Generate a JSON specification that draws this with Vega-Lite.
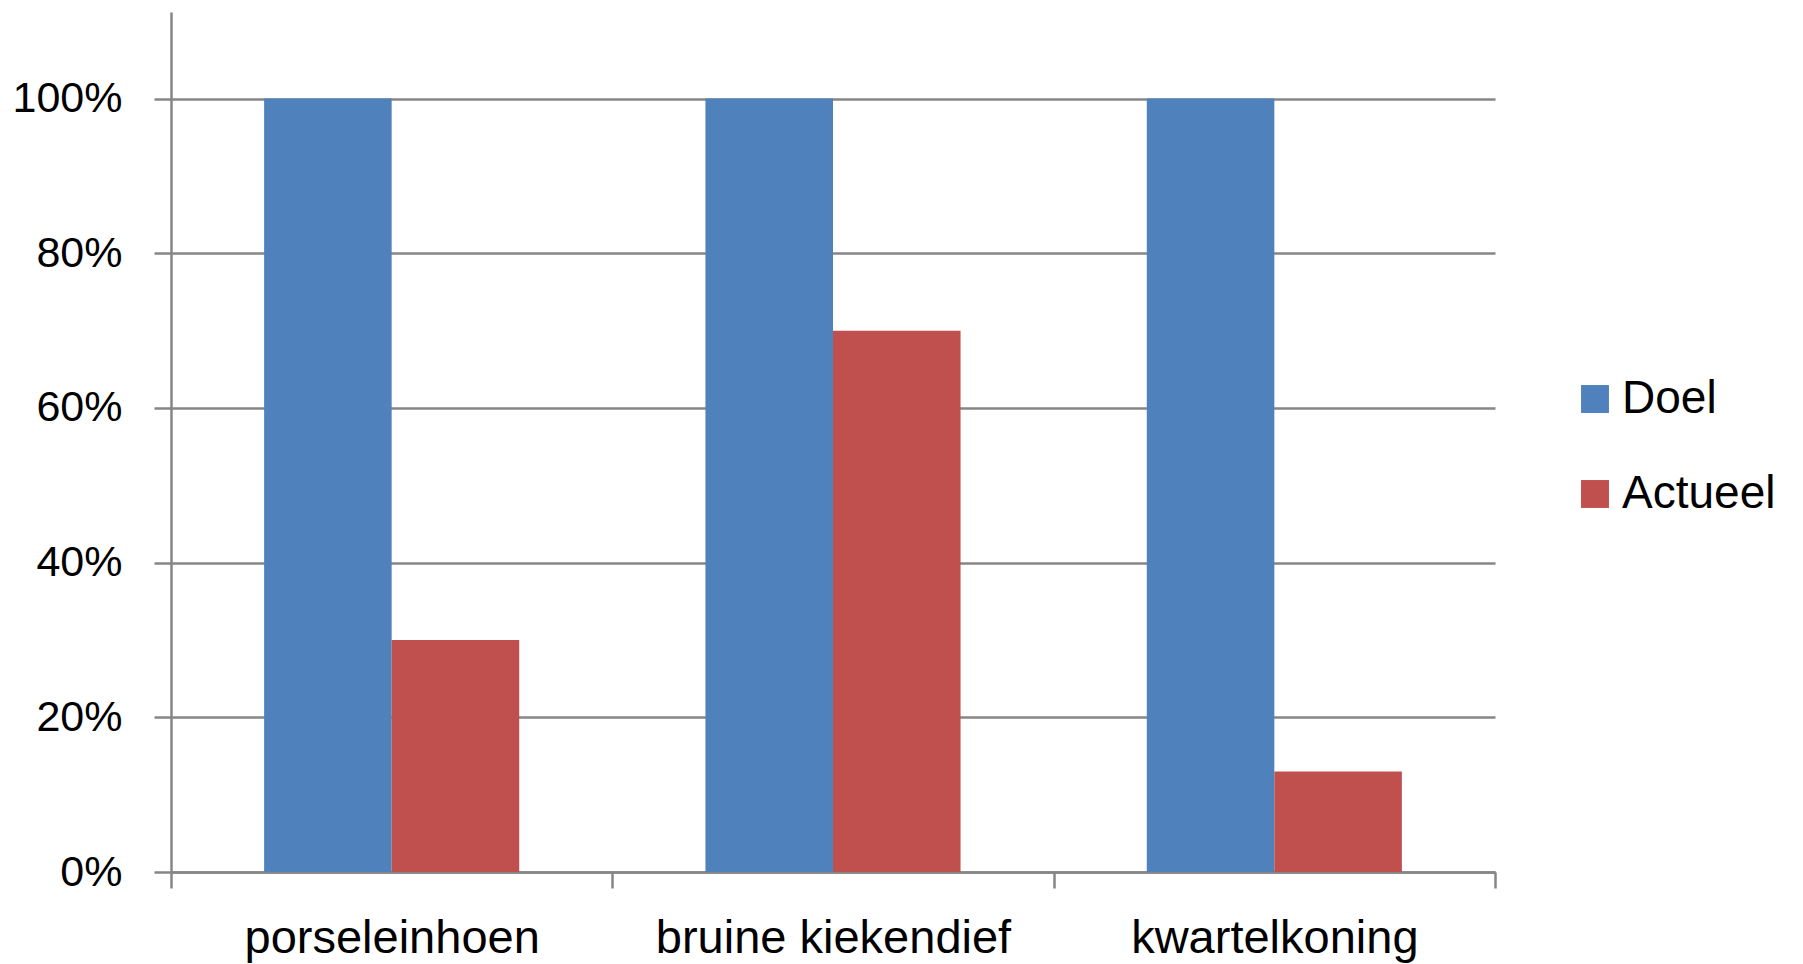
{
  "$schema": "https://vega.github.io/schema/vega-lite/v6.json",
  "autosize": "none",
  "width": 1324,
  "height": 860,
  "padding": {"left": 171, "top": 12, "right": 308, "bottom": 92},
  "background": "white",
  "data": {
    "values": [
      {"soort": "porseleinhoen", "reeks": "Doel", "waarde": 1.0},
      {"soort": "porseleinhoen", "reeks": "Actueel", "waarde": 0.30},
      {"soort": "bruine kiekendief", "reeks": "Doel", "waarde": 1.0},
      {"soort": "bruine kiekendief", "reeks": "Actueel", "waarde": 0.70},
      {"soort": "kwartelkoning", "reeks": "Doel", "waarde": 1.0},
      {"soort": "kwartelkoning", "reeks": "Actueel", "waarde": 0.13}
    ]
  },
  "mark": {"type": "bar"},
  "encoding": {
    "x": {
      "field": "soort",
      "type": "nominal",
      "sort": ["porseleinhoen", "bruine kiekendief", "kwartelkoning"],
      "scale": {"paddingInner": 0, "paddingOuter": 0},
      "axis": {
        "title": null,
        "labelAngle": 0,
        "tickBand": "extent",
        "grid": false,
        "labelFontSize": 47,
        "labelPadding": 27,
        "labelLimit": 0,
        "tickSize": 16,
        "labelColor": "#000000"
      }
    },
    "xOffset": {
      "field": "reeks",
      "type": "nominal",
      "sort": ["Doel", "Actueel"],
      "scale": {"paddingInner": 0, "paddingOuter": 0.73}
    },
    "y": {
      "field": "waarde",
      "type": "quantitative",
      "scale": {"domain": [0, 1.112], "nice": false},
      "axis": {
        "title": null,
        "format": ".0%",
        "values": [0, 0.2, 0.4, 0.6, 0.8, 1.0],
        "grid": true,
        "labelFontSize": 43,
        "labelPadding": 32,
        "tickSize": 17,
        "labelColor": "#000000"
      }
    },
    "color": {
      "field": "reeks",
      "type": "nominal",
      "sort": ["Doel", "Actueel"],
      "scale": {"domain": ["Doel", "Actueel"], "range": ["#4F81BD", "#C0504D"]},
      "legend": {
        "title": null,
        "orient": "none",
        "legendX": 1401,
        "legendY": 364,
        "symbolType": "square",
        "symbolSize": 780,
        "symbolStrokeWidth": 0,
        "symbolOpacity": 1,
        "labelFontSize": 46,
        "labelOffset": 4,
        "rowPadding": 49,
        "padding": 0,
        "labelColor": "#000000",
        "labelLimit": 400
      }
    }
  },
  "config": {
    "font": "Liberation Sans",
    "view": {"stroke": null},
    "axis": {
      "domainColor": "#868686",
      "domainWidth": 2.5,
      "tickColor": "#868686",
      "tickWidth": 2.5,
      "gridColor": "#868686",
      "gridWidth": 2.5,
      "gridOpacity": 1,
      "labelFont": "Liberation Sans"
    },
    "legend": {"labelFont": "Liberation Sans"}
  }
}
